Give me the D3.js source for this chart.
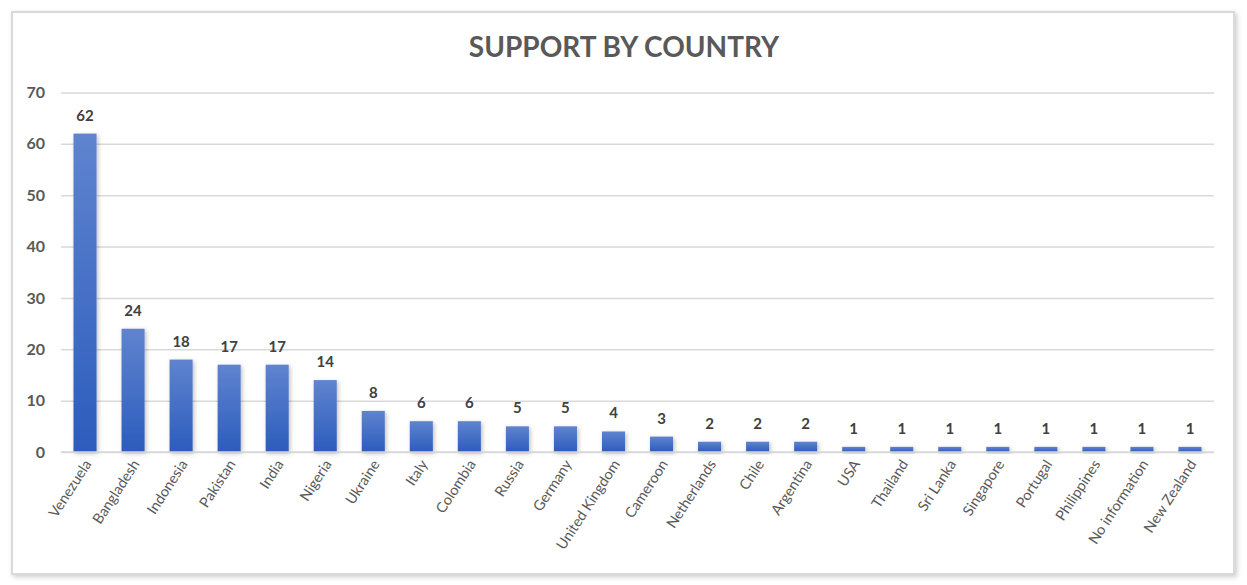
<!DOCTYPE html>
<html><head><meta charset="utf-8">
<script src="https://cdn.jsdelivr.net/npm/d3@7"></script>
<style>body{margin:0;background:#fff;}svg{display:block;}</style>
</head><body>
<script>
const categories = ["Venezuela","Bangladesh","Indonesia","Pakistan","India","Nigeria","Ukraine","Italy","Colombia","Russia","Germany","United Kingdom","Cameroon","Netherlands","Chile","Argentina","USA","Thailand","Sri Lanka","Singapore","Portugal","Philippines","No information","New Zealand"];
const values = [62,24,18,17,17,14,8,6,6,5,5,4,3,2,2,2,1,1,1,1,1,1,1,1];
const yTicks = [0,10,20,30,40,50,60,70];
const title = "SUPPORT BY COUNTRY";

const W = 1247, H = 585;
const svg = d3.select("body").append("svg").attr("width", W).attr("height", H);
const defs = svg.append("defs");
const f = defs.append("filter").attr("id","sh").attr("x","-20%").attr("y","-20%").attr("width","140%").attr("height","140%");
f.append("feDropShadow").attr("dx",1.5).attr("dy",1.5).attr("stdDeviation",2).attr("flood-color","#000").attr("flood-opacity",0.25);
const fb = defs.append("filter").attr("id","bsh").attr("x","-5%").attr("y","-5%").attr("width","110%").attr("height","110%");
fb.append("feDropShadow").attr("dx",2).attr("dy",2).attr("stdDeviation",2.5).attr("flood-color","#000").attr("flood-opacity",0.2);
const g = defs.append("linearGradient").attr("id","grad").attr("x1",0).attr("y1",0).attr("x2",0).attr("y2",1);
g.append("stop").attr("offset","0%").attr("stop-color","#5f84cf");
g.append("stop").attr("offset","100%").attr("stop-color","#2c5cbd");

svg.append("rect").attr("x",12).attr("y",12).attr("width",1222).attr("height",562)
  .attr("fill","#fff").attr("stroke","#d9d9d9").attr("stroke-width",2).attr("filter","url(#bsh)");

const font = "Lato, 'Open Sans', sans-serif";
svg.append("text").attr("x",624).attr("y",57).attr("text-anchor","middle")
  .attr("font-family",font).attr("font-weight","bold").attr("font-size",28).attr("fill","#595959").text(title);

const x = d3.scaleBand().domain(categories).range([61,1214]).paddingInner(0.52).paddingOuter(0.26);
const y = d3.scaleLinear().domain([0,70]).range([452,92.5]);

const yAxis = svg.append("g").attr("transform","translate(61,0)")
  .call(d3.axisLeft(y).tickValues(yTicks).tickSize(-1153).tickPadding(16));
yAxis.select(".domain").remove();
yAxis.selectAll(".tick line").attr("stroke","#d9d9d9").attr("stroke-width",1.5);
yAxis.selectAll(".tick text").attr("font-family",font).attr("font-weight","bold").attr("font-size",16).attr("fill","#595959");

svg.append("g").selectAll("rect").data(values).join("rect")
  .attr("x",(d,i)=>x(categories[i])).attr("width",x.bandwidth())
  .attr("y",d=>y(d)).attr("height",d=>y(0)-y(d))
  .attr("fill","url(#grad)").attr("filter","url(#sh)");

svg.append("line").attr("x1",61).attr("x2",1214).attr("y1",y(0)).attr("y2",y(0)).attr("stroke","#d9d9d9").attr("stroke-width",1.5);

svg.append("g").selectAll("text").data(values).join("text")
  .attr("x",(d,i)=>x(categories[i])+x.bandwidth()/2).attr("y",d=>y(d)-13)
  .attr("text-anchor","middle").attr("font-family",font).attr("font-weight","bold").attr("font-size",15).attr("fill","#404040")
  .text(d=>d);

const xAxis = svg.append("g").attr("transform",`translate(0,${y(0)})`).call(d3.axisBottom(x).tickSize(0).tickPadding(0));
xAxis.select(".domain").remove();
xAxis.selectAll(".tick text")
  .attr("font-family",font).attr("font-size",14.5).attr("fill","#595959")
  .attr("text-anchor","end").attr("dy",0)
  .attr("transform","translate(7,12) rotate(-57)");
</script>
</body></html>
